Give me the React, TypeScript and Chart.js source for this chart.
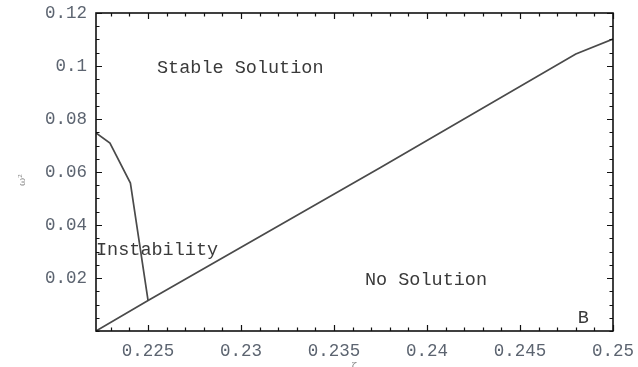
import React, { useEffect, useRef } from "react";
import { Chart, registerables } from "chart.js";

Chart.register(...registerables);

// Boundary line between "Stable Solution" and "No Solution"
const boundaryX = [0.2222, 0.225, 0.2375, 0.248, 0.25];
const boundaryY = [0.0, 0.0115, 0.0617, 0.1045, 0.1102];

// Instability curve
const instabX = [0.2222, 0.22295, 0.22405, 0.225];
const instabY = [0.0747, 0.0709, 0.0558, 0.0115];

// Axis ranges and ticks
const xMin = 0.2222;
const xMax = 0.25;
const xMajorTicks = [0.225, 0.23, 0.235, 0.24, 0.245, 0.25];
const xMinorStep = 0.001;
const yMin = 0;
const yMax = 0.12;
const yMajorTicks = [0.02, 0.04, 0.06, 0.08, 0.1, 0.12];
const yMinorStep = 0.005;

// Region annotations (data coordinates)
const noteTexts = ["Stable Solution", "Instability", "No Solution", "B"];
const noteX = [0.22548, 0.2222, 0.23666, 0.24811];
const noteY = [0.0992, 0.0306, 0.0192, 0.0049];

const MONO = "'Liberation Mono', 'DejaVu Sans Mono', monospace";

const framePlugin = {
  id: "frameTicks",
  afterDatasetsDraw(chart: any) {
    const { ctx, chartArea, scales } = chart;
    const xs = scales.x;
    const ys = scales.y;
    const { left, right, top, bottom } = chartArea;
    ctx.save();
    // frame
    ctx.strokeStyle = "#111";
    ctx.lineWidth = 1.6;
    ctx.strokeRect(left, top, right - left, bottom - top);
    // ticks on all four sides, pointing inward
    ctx.lineWidth = 1.2;
    const isMajor = (v: number, arr: number[]) => arr.some((m) => Math.abs(m - v) < 1e-7);
    const nx0 = Math.ceil(xMin / xMinorStep - 1e-6);
    const nx1 = Math.floor(xMax / xMinorStep + 1e-6);
    for (let i = nx0; i <= nx1; i++) {
      const v = +(i * xMinorStep).toFixed(6);
      const px = Math.round(xs.getPixelForValue(v)) + 0.5;
      const len = isMajor(v, xMajorTicks) ? 6 : 3.5;
      ctx.beginPath();
      ctx.moveTo(px, bottom);
      ctx.lineTo(px, bottom - len);
      ctx.moveTo(px, top);
      ctx.lineTo(px, top + len);
      ctx.stroke();
    }
    const ny0 = Math.ceil(yMin / yMinorStep - 1e-6);
    const ny1 = Math.floor(yMax / yMinorStep + 1e-6);
    for (let i = ny0; i <= ny1; i++) {
      const v = +(i * yMinorStep).toFixed(6);
      const py = Math.round(ys.getPixelForValue(v)) + 0.5;
      const len = isMajor(v, yMajorTicks) ? 6 : 3.5;
      ctx.beginPath();
      ctx.moveTo(left, py);
      ctx.lineTo(left + len, py);
      ctx.moveTo(right, py);
      ctx.lineTo(right - len, py);
      ctx.stroke();
    }
    // annotations
    ctx.fillStyle = "#3a3a3a";
    ctx.font = `18.5px ${MONO}`;
    ctx.textBaseline = "middle";
    ctx.textAlign = "left";
    noteTexts.forEach((t, i) => {
      ctx.fillText(t, xs.getPixelForValue(noteX[i]), ys.getPixelForValue(noteY[i]));
    });
    // y-axis label (rotated)
    ctx.fillStyle = "#8a8a8a";
    ctx.font = `10px 'DejaVu Serif', serif`;
    ctx.translate(22, 180);
    ctx.rotate(-Math.PI / 2);
    ctx.textAlign = "center";
    ctx.fillText("ω²", 0, 0);
    ctx.restore();
    // x-axis label (cut off at the bottom)
    ctx.save();
    ctx.fillStyle = "#8a8a8a";
    ctx.font = `10px 'DejaVu Serif', serif`;
    ctx.textAlign = "center";
    ctx.textBaseline = "top";
    ctx.fillText("ζ", (left + right) / 2, bottom + 30);
    ctx.restore();
  },
};

export default function App() {
  const ref = useRef<HTMLCanvasElement | null>(null);
  useEffect(() => {
    if (!ref.current) return;
    const chart = new Chart(ref.current, {
      type: "scatter",
      data: {
        datasets: [
          {
            data: boundaryX.map((x, i) => ({ x, y: boundaryY[i] })),
            showLine: true,
            borderColor: "#4a4a4a",
            borderWidth: 1.7,
            pointRadius: 0,
            tension: 0,
          },
          {
            data: instabX.map((x, i) => ({ x, y: instabY[i] })),
            showLine: true,
            borderColor: "#4a4a4a",
            borderWidth: 1.7,
            pointRadius: 0,
            tension: 0,
          },
        ],
      },
      options: {
        responsive: false,
        animation: false,
        layout: { padding: { top: 13, right: 25, left: 0, bottom: 0 } },
        plugins: { legend: { display: false }, tooltip: { enabled: false } },
        scales: {
          x: {
            type: "linear",
            min: xMin,
            max: xMax,
            grid: { display: false, drawTicks: false },
            border: { display: false },
            afterFit: (s: any) => {
              s.height = 36;
              s.paddingLeft = 0;
              s.paddingRight = 0;
            },
            afterBuildTicks: (s: any) => {
              s.ticks = xMajorTicks.map((v) => ({ value: v }));
            },
            ticks: {
              padding: 10,
              color: "#5c6470",
              font: { family: MONO, size: 17.5 },
              callback: (v: any) => String(+(+v).toFixed(3)),
              maxRotation: 0,
              autoSkip: false,
            },
          },
          y: {
            type: "linear",
            min: yMin,
            max: yMax,
            grid: { display: false, drawTicks: false },
            border: { display: false },
            afterFit: (s: any) => {
              s.width = 96;
              s.paddingTop = 0;
              s.paddingBottom = 0;
            },
            afterBuildTicks: (s: any) => {
              s.ticks = yMajorTicks.map((v) => ({ value: v }));
            },
            ticks: {
              padding: 9,
              color: "#5c6470",
              font: { family: MONO, size: 17.5 },
              callback: (v: any) => String(+(+v).toFixed(3)),
              autoSkip: false,
            },
          },
        },
      },
      plugins: [framePlugin],
    } as any);
    return () => chart.destroy();
  }, []);
  return (
    <div style={{ position: "absolute", left: 0, top: 0, width: 638, height: 367, background: "#fff" }}>
      <canvas ref={ref} width={638} height={367} style={{ display: "block" }} />
    </div>
  );
}
